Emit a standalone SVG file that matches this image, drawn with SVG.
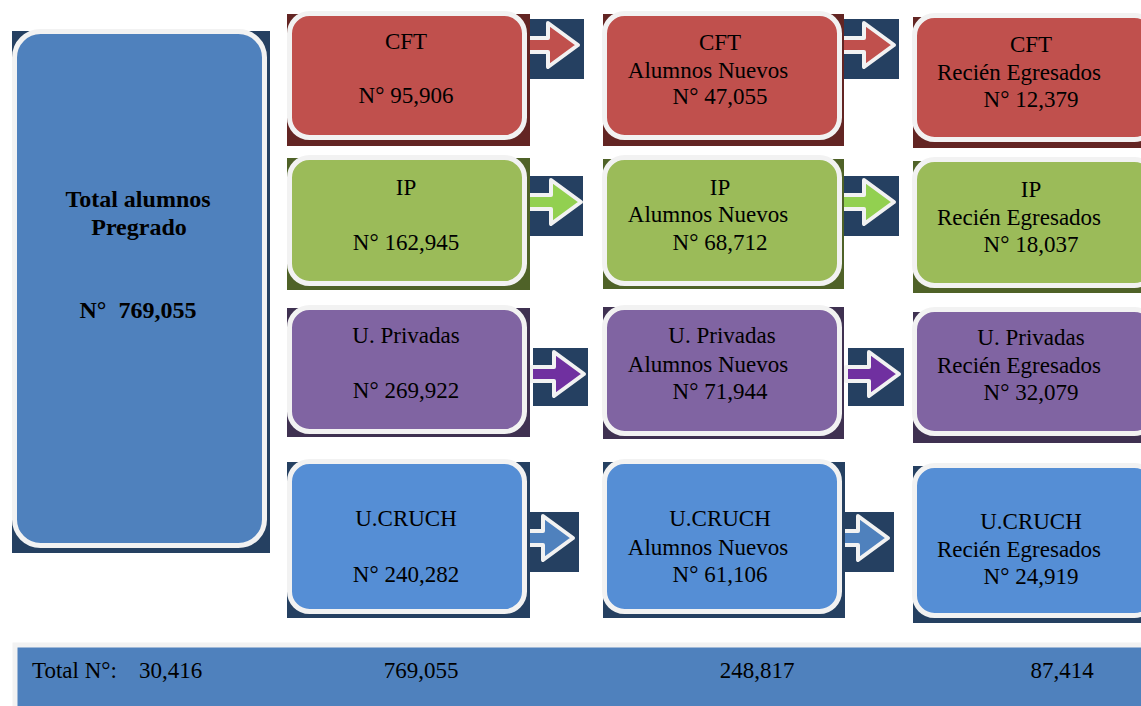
<svg xmlns="http://www.w3.org/2000/svg" width="1141" height="706" viewBox="0 0 1141 706">
<style>
.t{font-family:"Liberation Serif","Times New Roman",serif;font-size:23px;fill:#000;text-anchor:middle}
.b{font-weight:bold;font-size:24px}
.pre{white-space:pre}
.box{stroke:#F2F2F2;stroke-width:5}
.red{fill:#C0504D}.redS{fill:#632523}
.grn{fill:#9BBB59}.grnS{fill:#4F6228}
.pur{fill:#8064A2}.purS{fill:#3F3151}
.blu{fill:#558ED5}.bluS{fill:#254061}
.big{fill:#4F81BD}
.abox{fill:#254061}
.arr{stroke:#F2F2F2;stroke-width:4;stroke-linejoin:round}
</style>
<defs>
<path id="arrow" d="M-2,19 H21 V4 L51,26 L21,48 V33 H-2 Z"/>
</defs>
<rect width="1141" height="706" fill="#fff"/>

<g id="total-pregrado">
<rect class="bluS" x="12" y="31" width="258" height="522"/>
<rect class="box big" x="14.5" y="31.5" width="250" height="514" rx="26"/>
<text class="t b" x="138" y="207">Total alumnos</text>
<text class="t b" x="139" y="235">Pregrado</text>
<text class="t b pre" x="138" y="318">N°  769,055</text>
</g>

<g id="connectors">
<g transform="translate(527,19)"><rect class="abox" width="57" height="60"/><use href="#arrow" class="arr" fill="#C0504D"/></g>
<g transform="translate(843,19)"><rect class="abox" width="56" height="60"/><use href="#arrow" class="arr" fill="#C0504D"/></g>
<g transform="translate(530,176)"><rect class="abox" width="53" height="60"/><use href="#arrow" class="arr" fill="#92D050"/></g>
<g transform="translate(843,176)"><rect class="abox" width="56" height="60"/><use href="#arrow" class="arr" fill="#92D050"/></g>
<g transform="translate(533,348)"><rect class="abox" width="55" height="58"/><use href="#arrow" class="arr" fill="#7030A0"/></g>
<g transform="translate(848,348)"><rect class="abox" width="56" height="58"/><use href="#arrow" class="arr" fill="#7030A0"/></g>
<g transform="translate(522,512)"><rect class="abox" width="57" height="60"/><use href="#arrow" class="arr" fill="#4F81BD"/></g>
<g transform="translate(837,512)"><rect class="abox" width="57" height="60"/><use href="#arrow" class="arr" fill="#4F81BD"/></g>
</g>

<!-- Row 1 CFT -->
<g id="cft">
<rect class="redS" x="287" y="14" width="243" height="132"/>
<rect class="box red" x="289.5" y="13.5" width="235" height="124" rx="20"/>
<text class="t" x="406" y="49">CFT</text>
<text class="t" x="406" y="103">N° 95,906</text>
</g>
<g id="cft-nuevos">
<rect class="redS" x="603" y="14" width="241" height="132"/>
<rect class="box red" x="604.5" y="13.5" width="235" height="124" rx="20"/>
<text class="t" x="720" y="50">CFT</text>
<text class="t" x="708" y="78">Alumnos Nuevos</text>
<text class="t" x="720" y="104">N° 47,055</text>
</g>
<g id="cft-egresados">
<rect class="redS" x="913" y="17" width="230" height="131"/>
<rect class="box red" x="914.5" y="15.5" width="240" height="124" rx="20"/>
<text class="t" x="1031" y="52">CFT</text>
<text class="t" x="1019" y="80">Recién Egresados</text>
<text class="t" x="1031" y="107">N° 12,379</text>
</g>

<!-- Row 2 IP -->
<g id="ip">
<rect class="grnS" x="287" y="158" width="243" height="132"/>
<rect class="box grn" x="289.5" y="157.5" width="235" height="126" rx="20"/>
<text class="t" x="406" y="195">IP</text>
<text class="t" x="406" y="250">N° 162,945</text>
</g>
<g id="ip-nuevos">
<rect class="grnS" x="603" y="159" width="241" height="130"/>
<rect class="box grn" x="604.5" y="157.5" width="235" height="126" rx="20"/>
<text class="t" x="720" y="195">IP</text>
<text class="t" x="708" y="222">Alumnos Nuevos</text>
<text class="t" x="720" y="250">N° 68,712</text>
</g>
<g id="ip-egresados">
<rect class="grnS" x="913" y="161" width="230" height="132"/>
<rect class="box grn" x="914.5" y="159.5" width="240" height="126" rx="20"/>
<text class="t" x="1031" y="197">IP</text>
<text class="t" x="1019" y="225">Recién Egresados</text>
<text class="t" x="1031" y="252">N° 18,037</text>
</g>

<!-- Row 3 U. Privadas -->
<g id="privadas">
<rect class="purS" x="287" y="308" width="243" height="129"/>
<rect class="box pur" x="289.5" y="307.5" width="235" height="124" rx="20"/>
<text class="t" x="406" y="343">U. Privadas</text>
<text class="t" x="406" y="398">N° 269,922</text>
</g>
<g id="privadas-nuevos">
<rect class="purS" x="603" y="307" width="241" height="132"/>
<rect class="box pur" x="604.5" y="307.5" width="235" height="126" rx="20"/>
<text class="t" x="722" y="343">U. Privadas</text>
<text class="t" x="708" y="372">Alumnos Nuevos</text>
<text class="t" x="720" y="399">N° 71,944</text>
</g>
<g id="privadas-egresados">
<rect class="purS" x="913" y="312" width="230" height="131"/>
<rect class="box pur" x="914.5" y="309.5" width="240" height="124" rx="20"/>
<text class="t" x="1031" y="345">U. Privadas</text>
<text class="t" x="1019" y="373">Recién Egresados</text>
<text class="t" x="1031" y="400">N° 32,079</text>
</g>

<!-- Row 4 U.CRUCH -->
<g id="cruch">
<rect class="bluS" x="287" y="462" width="243" height="156"/>
<rect class="box blu" x="289.5" y="461.5" width="235" height="150" rx="20"/>
<text class="t" x="406" y="526">U.CRUCH</text>
<text class="t" x="406" y="582">N° 240,282</text>
</g>
<g id="cruch-nuevos">
<rect class="bluS" x="603" y="462" width="242" height="156"/>
<rect class="box blu" x="604.5" y="461.5" width="235" height="150" rx="20"/>
<text class="t" x="720" y="526">U.CRUCH</text>
<text class="t" x="708" y="555">Alumnos Nuevos</text>
<text class="t" x="720" y="582">N° 61,106</text>
</g>
<g id="cruch-egresados">
<rect class="bluS" x="913" y="466" width="230" height="157"/>
<rect class="box blu" x="914.5" y="465.5" width="240" height="150" rx="20"/>
<text class="t" x="1031" y="529">U.CRUCH</text>
<text class="t" x="1019" y="557">Recién Egresados</text>
<text class="t" x="1031" y="584">N° 24,919</text>
</g>

<!-- Totals bar -->
<g id="totales">
<rect x="15" y="645" width="1135" height="70" fill="#4F81BD" stroke="#F2F2F2" stroke-width="5"/>
<text class="t" x="32" y="678" style="text-anchor:start">Total N°:</text>
<text class="t" x="139" y="678" style="text-anchor:start">30,416</text>
<text class="t" x="421" y="678">769,055</text>
<text class="t" x="757" y="678">248,817</text>
<text class="t" x="1062" y="678">87,414</text>
</g>
</svg>
